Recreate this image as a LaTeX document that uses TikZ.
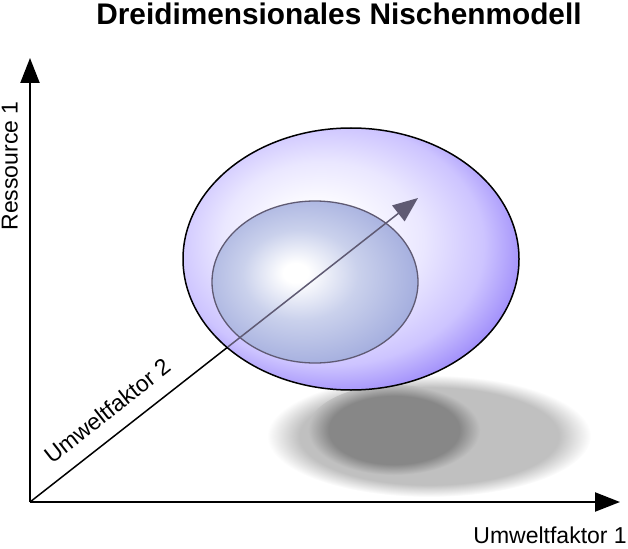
\documentclass[tikz,border=0pt]{standalone}
\usepackage{fontspec}
\setmainfont{Liberation Sans}
\usepackage{tikz}
\usetikzlibrary{arrows.meta}
\usepackage{xcolor}

\definecolor{nicheDeep}{RGB}{140,118,248}
\definecolor{nicheMid}{RGB}{205,196,255}
\definecolor{nicheLight}{RGB}{234,231,255}
\definecolor{coreEdge}{RGB}{163,173,222}
\definecolor{coreMid}{RGB}{202,209,236}
\definecolor{shadowDark}{RGB}{135,135,135}
\definecolor{shadowLight}{RGB}{192,192,192}
\definecolor{arrowInk}{RGB}{95,90,115}

\pgfdeclareradialshading{nicheshade}{\pgfpoint{-6bp}{5bp}}{color(0bp)=(white); color(5bp)=(white); color(15bp)=(nicheLight); color(23bp)=(nicheMid); color(31bp)=(nicheDeep); color(50bp)=(nicheDeep)}
\pgfdeclareradialshading{coreshade}{\pgfpoint{-5bp}{3bp}}{color(0bp)=(white); color(3bp)=(white); color(14bp)=(coreMid); color(28bp)=(coreEdge); color(50bp)=(coreEdge)}
\pgfdeclareradialshading{shadowsoft}{\pgfpoint{0bp}{0bp}}{color(0bp)=(shadowLight); color(20bp)=(shadowLight); color(25bp)=(white); color(50bp)=(white)}
\pgfdeclareradialshading{shadowcore}{\pgfpoint{0bp}{0bp}}{color(0bp)=(shadowDark); color(19bp)=(shadowDark); color(25bp)=(shadowLight); color(50bp)=(shadowLight)}

\begin{document}
\begin{tikzpicture}[x=1pt,y=-1pt,
    axis/.style={line width=2.2pt, -{Triangle[length=25pt,width=19pt]}},
    diag/.style={line width=1.5pt, -{Triangle[length=25pt,width=20pt]}},
    lbl/.style={inner sep=0pt, font=\fontsize{23}{27}\selectfont}]
  \useasboundingbox (0,0) rectangle (628,548);

  \coordinate (origin) at (30,502);
  \coordinate (ytip) at (30,58);
  \coordinate (xtip) at (620,502);
  \coordinate (ztip) at (418,198);
  \coordinate (niche) at (351,259);
  \coordinate (core) at (315,282);

  % shadow below the niche
  \shade[shading=shadowsoft] (429,436) ellipse [x radius=162, y radius=61];
  \shade[shading=shadowcore] (394,430) ellipse [x radius=86, y radius=45];

  % axes
  \draw[axis] (origin) -- (ytip);
  \draw[axis] (origin) -- (xtip);
  \draw[diag] (origin) -- (ztip)
    node[lbl, sloped, above=15pt, pos=0.238] (zlabel) {Umweltfaktor 2};

  % niche volumes
  \shade[shading=nicheshade] (niche) ellipse [x radius=168, y radius=131];
  \draw[line width=1.5pt] (niche) ellipse [x radius=168, y radius=131];
  \shade[shading=coreshade] (core) ellipse [x radius=103, y radius=81];
  \draw[line width=1.3pt, arrowInk] (core) ellipse [x radius=103, y radius=81];

  \begin{scope}
    \clip (niche) ellipse [x radius=167, y radius=130];
    \draw[diag, arrowInk] (origin) -- (ztip);
  \end{scope}

  % labels
  \node[lbl, anchor=base] (title) at (339,25)
    {\fontsize{29.8}{34}\selectfont\bfseries Dreidimensionales Nischenmodell};
  \node[lbl, rotate=90, anchor=base] (ylabel) at (17.5,166) {Ressource 1};
  \node[lbl, anchor=base east] (xlabel) at (627,543) {Umweltfaktor 1};
\end{tikzpicture}
\end{document}
